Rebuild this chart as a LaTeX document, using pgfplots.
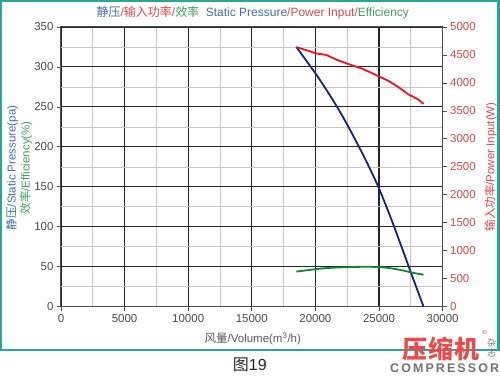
\documentclass[border=0pt]{standalone}
\usepackage{pgfplots}
\pgfplotsset{compat=1.18}
\usepackage{fontspec}
\setmainfont{Liberation Sans}
\newfontfamily\cjk{Noto Sans CJK SC}
\definecolor{tblue}{HTML}{3E6FA8}
\definecolor{tred}{HTML}{D9474A}
\definecolor{tgreen}{HTML}{3C9E5C}
\definecolor{lblue}{HTML}{16237E}
\definecolor{lred}{HTML}{E8141C}
\definecolor{lgreen}{HTML}{13852C}
\definecolor{framec}{HTML}{2BA596}
\definecolor{ticktext}{HTML}{4A4A4A}
\definecolor{logored}{HTML}{EC4A4A}
\begin{document}
\begin{tikzpicture}[x=1pt,y=1pt]
\path (0,0) rectangle (500,374);
\draw[framec, line width=2.2] (1.1,24) rectangle (498.9,372.9);
\begin{axis}[at={(61pt,67pt)}, anchor=origin, scale only axis,
  width=382pt, height=280pt,
  xmin=0, xmax=30000, ymin=0, ymax=350,
  xtick distance=5000, ytick distance=50,
  minor x tick num=1, minor y tick num=1,
  grid=both,
  major grid style={draw=black!85, line width=1.1pt},
  minor grid style={draw=black!22, line width=0.7pt},
  axis line style={draw=black!70, line width=1pt},
  tick style={draw=black!70, line width=0.8pt},
  tick align=outside, major tick length=4pt, minor tick length=0pt,
  xtick pos=bottom, ytick pos=left,
  scaled x ticks=false,
  /pgf/number format/set thousands separator={},
  /pgf/number format/assume math mode=true,
  tick label style={font=\fontsize{11.5}{13}\selectfont, text=ticktext},
  clip=false]
\addplot[lblue, line width=1.8pt, smooth] coordinates {
 (18500,325) (20000,292) (21000,268) (22000,242) (23000,213) (24000,182)
 (25000,148) (26000,108) (27000,65) (27500,43) (28500,0)};
\addplot[lgreen, line width=1.8pt, smooth] coordinates {
 (18500,44) (20000,47) (21000,48.5) (22500,49.6) (24000,50) (25000,49.6)
 (26000,48) (27000,45) (27500,43) (28500,40)};
\end{axis}
\begin{axis}[at={(61pt,67pt)}, anchor=origin, scale only axis,
  width=382pt, height=280pt,
  xmin=0, xmax=30000, ymin=0, ymax=5000,
  axis x line=none, axis y line*=right,
  ytick distance=500,
  axis line style={draw=black!70, line width=1pt},
  tick style={draw=black!70, line width=0.8pt},
  tick align=outside, major tick length=4pt,
  /pgf/number format/set thousands separator={},
  /pgf/number format/assume math mode=true,
  tick label style={font=\fontsize{11.5}{13}\selectfont, text=tred},
  clip=false]
\addplot[lred, line width=1.8pt] coordinates {
 (18500,4640) (19500,4570) (20000,4530) (20860,4500) (21600,4420) (22440,4350)
 (23615,4260) (24300,4190) (25050,4110) (25800,4030) (26490,3930)
 (27275,3800) (27670,3755) (28100,3700) (28510,3625)};
\end{axis}
% title
\node[font=\fontsize{12}{14}\selectfont] at (253,361) {%
 \textcolor{tblue}{\cjk 静压}\textcolor{tred}{/{\cjk 输入功率}/}\textcolor{tgreen}{\cjk 效率}\ \ %
 \textcolor{tblue}{Static Pressure}\textcolor{tred}{/Power Input/}\textcolor{tgreen}{Efficiency}};
% left labels
\node[rotate=90, font=\fontsize{11.5}{13}\selectfont, text=tblue] at (12,206) {{\cjk 静压}/Static Pressure(pa)};
\node[rotate=90, font=\fontsize{11.5}{13}\selectfont, text=tgreen] at (26,206) {{\cjk 效率}/Efficiency(\%)};
% right label
\node[rotate=90, font=\fontsize{11.5}{13}\selectfont, text=tred] at (491,207) {{\cjk 输入功率}/Power Input(W)};
% x label
\node[font=\fontsize{11.5}{13}\selectfont, text=black!65] at (253,35) {{\cjk 风量}/Volume(m\textsuperscript{3}/h)};
% figure caption
\node[font=\fontsize{16}{18}\selectfont, text=black!85] at (250,8.5) {{\cjk 图}19};
% logo
\node[font=\fontsize{25}{27}\selectfont\bfseries, text=logored] at (441,25) {\cjk 压\hspace{1pt}缩\hspace{1pt}机};
\node[font=\fontsize{12.5}{14}\selectfont\bfseries, text=black!55, inner sep=0pt] at (445,5.5) {C\,O\,M\,P\,R\,E\,S\,S\,O\,R};
\node[font=\fontsize{9}{10}\selectfont, text=black!55, align=center, inner sep=0pt] at (492,26) {\cjk 杂\\\cjk 志};
\node[font=\fontsize{6}{7}\selectfont, text=black!55, inner sep=0pt] at (485,41) {\textregistered};
\end{tikzpicture}
\end{document}
